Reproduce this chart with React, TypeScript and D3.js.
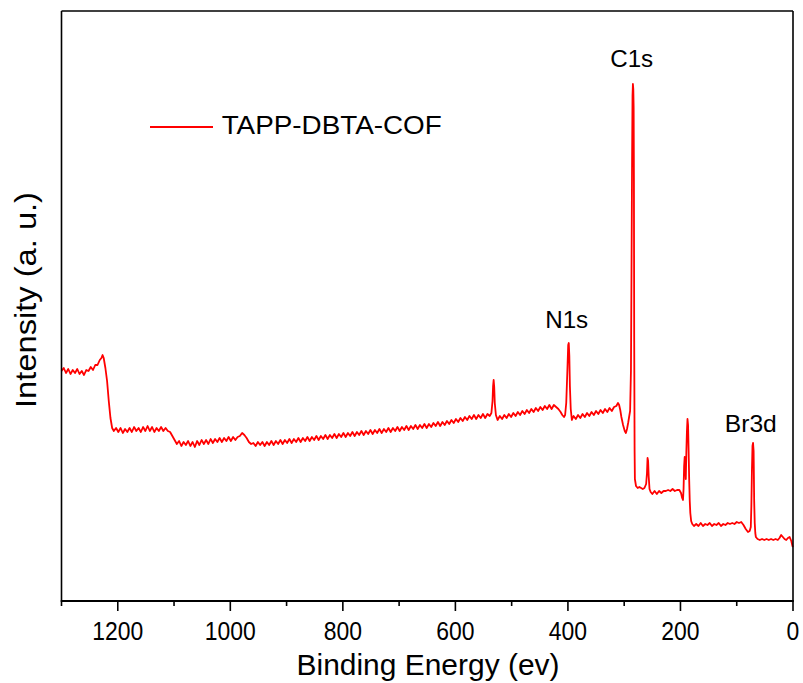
import React, { useMemo } from "react";
import * as d3 from "d3";

// XPS survey spectrum: [binding energy (eV), intensity (a.u.)]
const spectrum: [number, number][] = [
  [1300,230],[1296,233],[1292,228],[1288,232],[1284,227],[1280,231],[1276,228],[1272,232],[1268,227],[1264,230],
  [1260,226],[1256,231],[1252,230],[1248,234],[1244,231],[1240,236],[1236,236],[1232,241],[1229,243],[1227,246],
  [1225,243],[1222,233],[1219,220],[1216,200],[1213,183],[1210,173],[1207,170],
  [1203,173],[1199,169],[1195,173],[1191,168],[1187,172],[1183,169],[1179,173],[1175,169],[1171,174],[1167,170],
  [1163,173],[1159,169],[1155,174],[1151,170],[1147,175],[1143,170],[1139,174],[1135,169],[1131,173],[1127,170],
  [1123,174],[1119,170],[1115,173],[1111,170],[1107,169],[1103,165],[1099,161],[1095,157],[1091,160],[1087,155],
  [1083,159],[1079,156],[1075,160],[1071,155],[1067,159],[1063,154],[1059,160],[1055,156],[1051,161],[1047,157],
  [1043,161],[1039,157],[1035,162],[1031,158],[1027,162],[1023,159],[1019,163],[1015,159],[1011,163],[1007,160],
  [1003,164],[999,160],[995,164],[991,161],[987,164],[983,165],[979,168],[975,166],[971,163],[967,159],[963,157],
  [959,158],[955,155],[951,159],[947,156],[943,159],[939,155],[935,159],[931,156],[927,160],[923,156],[919,160],
  [915,157],[911,161],[907,157],[903,161],[899,158],[895,162],[891,158],[887,162],[883,159],[879,163],[875,159],
  [871,163],[867,160],[863,164],[859,160],[855,164],[851,161],[847,165],[843,161],[839,165],[835,162],[831,166],
  [827,162],[823,166],[819,163],[815,167],[811,163],[807,167],[803,164],[799,168],[795,164],[791,168],[787,165],
  [783,169],[779,165],[775,169],[771,166],[767,170],[763,166],[759,170],[755,167],[751,171],[747,167],[743,171],
  [739,168],[735,172],[731,168],[727,172],[723,169],[719,173],[715,169],[711,173],[707,170],[703,174],[699,170],
  [695,174],[691,171],[687,175],[683,171],[679,175],[675,172],[671,176],[667,172],[663,176],[659,173],[655,177],
  [651,173],[647,177],[643,174],[639,178],[635,175],[631,179],[627,175],[623,179],[619,176],[615,180],[611,177],
  [607,181],[603,178],[599,182],[595,179],[591,183],[587,180],[583,184],[579,181],[575,185],[571,182],[567,186],
  [563,182],[559,186],[555,183],[551,187],[547,183],[543,187],[539,185],
  [536,188],[534,200],[533,215],[532,221],[531,214],[530,198],[528,186],[525,181],[521,185],[517,182],[513,186],
  [509,183],[505,187],[501,184],[497,188],[493,185],[489,189],[485,186],[481,190],[477,187],[473,191],[469,188],
  [465,192],[461,189],[457,193],[453,190],[449,194],[445,191],[441,195],[437,192],[433,196],[429,192],[425,196],
  [421,194],[417,192],[413,189],[410,186],[407,184],[405,186],[403,198],[401,230],[399.5,256],[398.5,258],
  [397.5,245],[396.5,215],[395,192],[393,181],[390,185],[386,182],[382,186],[378,183],[374,187],[370,184],
  [366,188],[362,185],[358,189],[354,186],[350,190],[346,187],[342,191],[338,188],[334,192],[330,189],[326,193],
  [322,190],[318,194],[314,195],[311,198],[309,196],[307,191],[305,184],[302,176],[299,170],[297,168],[295,172],
  [293,178],[291,185],[289.5,190],[288,230],[287,330],[286,440],[285.2,505],[284.5,517],[283.8,512],[283.2,494],
  [282.7,420],[282.2,260],[281.5,150],[281,122],[279,115],[276,113],[273,114],[270,113],[267,112],[264,113],
  [261,117],[259.5,128],[258.5,143],[257.5,140],[256.5,125],[255,112],[253,109],[250,107],[246,110],[242,107],
  [238,110],[234,108],[230,110],[226,110],[222,111],[218,110],[214,112],[210,110],[206,111],[202,111],[199,108],
  [197,103],[195.5,101],[194.5,112],[193.5,135],[192.5,144],[191.5,138],[190.5,122],[189.5,150],[188.5,170],
  [187.5,182],[186.5,176],[185.5,150],[184.5,121],[183.5,100],[182.5,88],[181,80],[179,77],[176,75],[172,77],
  [168,75],[164,78],[160,75],[156,77],[152,76],[148,78],[144,75],[140,77],[136,76],[132,78],[128,75],[124,77],
  [120,76],[116,78],[112,77],[108,78],[104,77],[100,79],[96,78],[92,79],[88,76],[84,72],[80,69],[77,70],[75,74],
  [74,95],[73,130],[72,155],[71,158],[70,150],[69.5,125],[69,100],[68,78],[67,68],[66,64],[63,62],[59,61],
  [55,62],[51,61],[47,62],[43,61],[39,62],[35,61],[31,62],[27,61],[24,63],[21,66],[18,64],[15,62],[12,61],
  [9,63],[6,64],[3,60],[1,55],[0,54],
];

const majorTicks = [1200, 1000, 800, 600, 400, 200, 0];
const minorTicks = [1300, 1100, 900, 700, 500, 300, 100];
const seriesName = "TAPP-DBTA-COF";
const peakLabels = [
  { text: "C1s", energy: 284.5, width: 43 },
  { text: "N1s", energy: 398.5, width: 43 },
  { text: "Br3d", energy: 70, width: 52 },
];
const xTitle = "Binding Energy (ev)";
const yTitle = "Intensity (a. u.)";

const W = 803, H = 683;
const L = 61.5, R = 793, T = 11, B = 601;

export default function App() {
  const x = useMemo(() => d3.scaleLinear().domain([1300, 0]).range([L, R]), []);
  const y = useMemo(() => d3.scaleLinear().domain([0, 590]).range([B, T]), []);
  const path = useMemo(
    () => d3.line<[number, number]>().x((d) => x(d[0])).y((d) => y(d[1]))(spectrum) || "",
    [x, y]
  );
  const font = "'Liberation Sans', Arial, sans-serif";
  const labelPos: Record<string, [number, number]> = {
    C1s: [631.7, 67],
    N1s: [566.7, 328],
    Br3d: [750.8, 431.5],
  };
  return (
    <svg width={W} height={H} style={{ position: "absolute", left: 0, top: 0, background: "#fff" }} fontFamily={font}>
      <rect x={0} y={0} width={W} height={H} fill="#fff" />
      <path d={path} fill="none" stroke="#ff0000" strokeWidth={1.8} strokeLinejoin="round" />
      {/* frame */}
      <line x1={L} y1={T} x2={R} y2={T} stroke="#000" strokeWidth={1.6} />
      <line x1={L} y1={T} x2={L} y2={B} stroke="#000" strokeWidth={1.6} />
      <line x1={R} y1={T} x2={R} y2={B} stroke="#000" strokeWidth={1.6} />
      <line x1={L - 0.8} y1={B} x2={R + 0.8} y2={B} stroke="#000" strokeWidth={2.2} />
      {majorTicks.map((t) => (
        <g key={"M" + t}>
          <line x1={x(t)} x2={x(t)} y1={B} y2={B + 10} stroke="#000" strokeWidth={1.6} />
          <text
            transform={`translate(${x(t)},640) scale(0.9,1)`}
            textAnchor="middle"
            fontSize={25.5}
            fill="#000"
          >
            {t}
          </text>
        </g>
      ))}
      {minorTicks.map((t) => (
        <line key={"m" + t} x1={x(t)} x2={x(t)} y1={B} y2={B + 5} stroke="#000" strokeWidth={1.6} />
      ))}
      <text x={428} y={675} textAnchor="middle" fontSize={30} fill="#000" textLength={263} lengthAdjust="spacingAndGlyphs">
        {xTitle}
      </text>
      <text
        transform={`translate(36,300) rotate(-90)`}
        textAnchor="middle"
        fontSize={30}
        fill="#000"
        textLength={216}
        lengthAdjust="spacingAndGlyphs"
      >
        {yTitle}
      </text>
      {/* legend */}
      <line x1={150} x2={213} y1={127} y2={127} stroke="#ff0000" strokeWidth={2} />
      <text x={221.7} y={134.3} fontSize={25} fill="#000" textLength={220} lengthAdjust="spacingAndGlyphs">
        {seriesName}
      </text>
      {peakLabels.map((p) => (
        <text
          key={p.text}
          x={labelPos[p.text][0]}
          y={labelPos[p.text][1]}
          textAnchor="middle"
          fontSize={24}
          fill="#000"
          textLength={p.width}
          lengthAdjust="spacingAndGlyphs"
        >
          {p.text}
        </text>
      ))}
    </svg>
  );
}
